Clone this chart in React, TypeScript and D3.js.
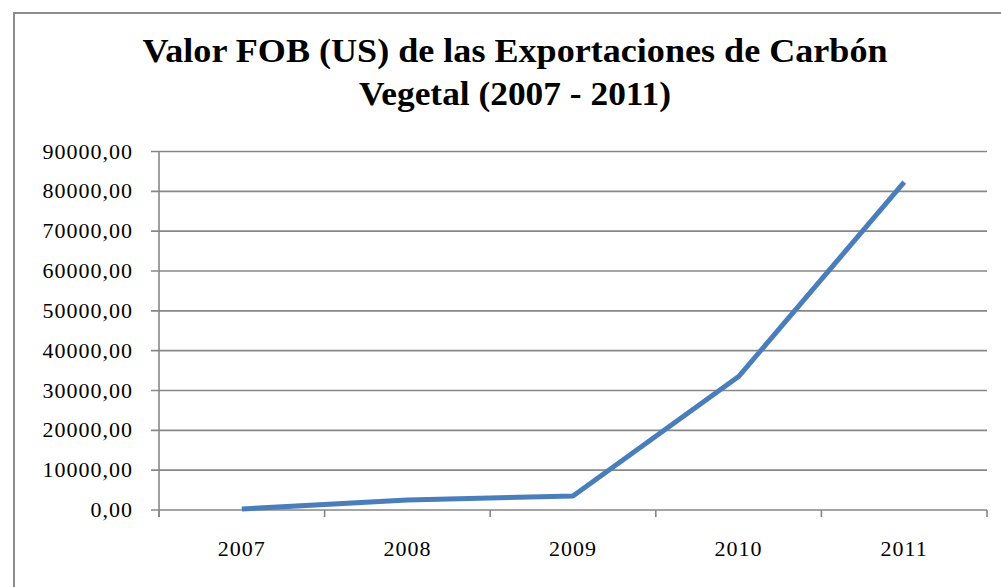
import React from "react";
import * as d3 from "d3";

const categories = ["2007", "2008", "2009", "2010", "2011"];
const values = [250, 2500, 3500, 33500, 82300];
const yTicks = [0, 10000, 20000, 30000, 40000, 50000, 60000, 70000, 80000, 90000];
const titleLines = ["Valor FOB (US) de las Exportaciones de Carbón", "Vegetal (2007 - 2011)"];

export default function App() {
  const W = 1001, H = 587;
  const left = 159, right = 987, top = 151.5, bottom = 510;
  const x = d3.scaleBand<string>().domain(categories).range([left, right]);
  const y = d3.scaleLinear().domain([0, 90000]).range([bottom, top]);
  const line = d3.line<number>()
    .x((_, i) => (x(categories[i]) as number) + x.bandwidth() / 2)
    .y((d) => y(d));
  const fmt = (v: number) => v.toFixed(2).replace(".", ",");
  const font = "Liberation Serif";
  const grid = "#878787";
  const xTickPos = [...categories.map((c) => x(c) as number), right];
  const titleLens = [745, 312];
  return (
    <svg width={W} height={H} style={{ position: "absolute", left: 0, top: 0, background: "#fff" }}>
      <rect x={14} y={13} width={1002} height={600} fill="#fff" stroke="#8c8c8c" strokeWidth={2} />
      {titleLines.map((t, i) => (
        <text key={i} x={515} y={62 + i * 43} textAnchor="middle" fontFamily={font} fontWeight="bold" fontSize={33} fill="#000"
          textLength={titleLens[i]} lengthAdjust="spacingAndGlyphs">
          {t}
        </text>
      ))}
      {yTicks.map((v) => (
        <g key={v}>
          <line x1={151} x2={right} y1={y(v)} y2={y(v)} stroke={grid} strokeWidth={1.6} />
          <text x={133} y={y(v) + 7} textAnchor="end" fontFamily={font} fontSize={22} letterSpacing={1} fill="#000">
            {fmt(v)}
          </text>
        </g>
      ))}
      <line x1={left} x2={left} y1={top} y2={bottom + 7} stroke={grid} strokeWidth={1.6} />
      {xTickPos.map((p, i) => (
        <line key={i} x1={p} x2={p} y1={bottom} y2={bottom + 7} stroke={grid} strokeWidth={1.6} />
      ))}
      {categories.map((c) => (
        <text key={c} x={(x(c) as number) + x.bandwidth() / 2} y={556} textAnchor="middle" fontFamily={font} fontSize={22} letterSpacing={1} fill="#000">
          {c}
        </text>
      ))}
      <path d={line(values) as string} fill="none" stroke="#4a7ebb" strokeWidth={5} strokeLinejoin="round" />
    </svg>
  );
}
